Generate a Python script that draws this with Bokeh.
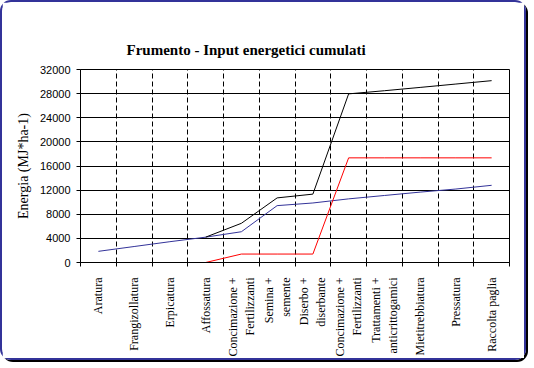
import math
from bokeh.plotting import figure
from bokeh.models import FixedTicker, Range1d, Title
from bokeh.embed import file_html
from bokeh.resources import INLINE

# ---- data ----
categories = ["Aratura", "Frangizollatura", "Erpicatura", "Affossatura",
              "Concimazione +\nFertilizzanti", "Semina +\nsemente",
              "Diserbo +\ndiserbante", "Concimazione +\nFertilizzanti",
              "Trattamenti +\nanticrittogamici", "Mietitrebbiatura",
              "Pressatura", "Raccolta paglia"]
blue_vals = [1850, 2650, 3450, 4200, 5100, 9430, 9870, 10550, 11110, 11670, 12180, 12800]
red_vals = [None, None, None, 0, 1400, 1400, 1400, 17350, 17350, 17350, 17350, 17350]
black_vals = [None, None, None, 4200, 6500, 10710, 11335, 27960, 28480, 29030, 29590, 30150]
y_ticks = [0, 4000, 8000, 12000, 16000, 20000, 24000, 28000, 32000]
title_text = "Frumento - Input energetici cumulati"
y_label = "Energia (MJ*ha-1)"

n = len(categories)
centers = [i + 0.5 for i in range(n)]
bounds = list(range(n + 1))

def series(vals):
    xs = [c for c, v in zip(centers, vals) if v is not None]
    ys = [v for v in vals if v is not None]
    return xs, ys

p = figure(width=526, height=360, output_backend="svg", toolbar_location=None,
           x_range=Range1d(0, n), y_range=Range1d(0, 32000),
           min_border_left=78, min_border_right=19, min_border_top=67, min_border_bottom=100,
           background_fill_color="white", border_fill_color="white",
           styles={"border": "2px solid #333399", "border-radius": "11px",
                   "box-shadow": "2px 2px 0 0 #000000"})
p.outline_line_color = "black"
p.outline_line_width = 1

p.add_layout(Title(text=title_text, align="left", offset=46,
                   text_font="Liberation Serif", text_font_size="15px",
                   text_font_style="bold", text_color="black", standoff=24,
                   vertical_align="bottom"), "above")

# x axis
xa = p.xaxis[0]
xa.ticker = FixedTicker(ticks=centers, minor_ticks=bounds)
xa.major_label_overrides = {c: lab for c, lab in zip(centers, categories)}
xa.major_tick_out = 0
xa.major_tick_in = 0
xa.minor_tick_out = 4
xa.minor_tick_in = 0
xa.minor_tick_line_color = "black"
xa.axis_line_color = "black"
xa.major_label_orientation = math.pi / 2
xa.major_label_standoff = 11
xa.major_label_text_font = "Liberation Serif"
xa.major_label_text_font_size = "12px"
xa.major_label_text_color = "black"

# y axis
ya = p.yaxis[0]
ya.ticker = FixedTicker(ticks=y_ticks)
ya.major_tick_out = 4
ya.major_tick_in = 0
ya.minor_tick_out = 0
ya.minor_tick_in = 0
ya.axis_line_color = "black"
ya.major_tick_line_color = "black"
ya.major_label_standoff = 6
ya.major_label_text_font = "Liberation Sans"
ya.major_label_text_font_size = "11px"
ya.major_label_text_color = "black"
ya.axis_label = y_label
ya.axis_label_text_font = "Liberation Serif"
ya.axis_label_text_font_size = "14px"
ya.axis_label_text_font_style = "normal"
ya.axis_label_text_color = "black"
ya.axis_label_standoff = 6

# grids
p.xgrid.ticker = FixedTicker(ticks=bounds[1:-1])
p.xgrid.grid_line_color = "black"
p.xgrid.grid_line_dash = "5 3"
p.xgrid.grid_line_width = 1
p.ygrid.ticker = FixedTicker(ticks=y_ticks)
p.ygrid.grid_line_color = "black"
p.ygrid.grid_line_width = 1

bx, by = series(blue_vals)
rx, ry = series(red_vals)
kx, ky = series(black_vals)
p.line(bx, by, line_color="#333399", line_width=1)
p.line(kx, ky, line_color="black", line_width=1)
p.line(rx, ry, line_color="#ff0000", line_width=1)

open("out.html", "w").write(file_html(p, INLINE))
